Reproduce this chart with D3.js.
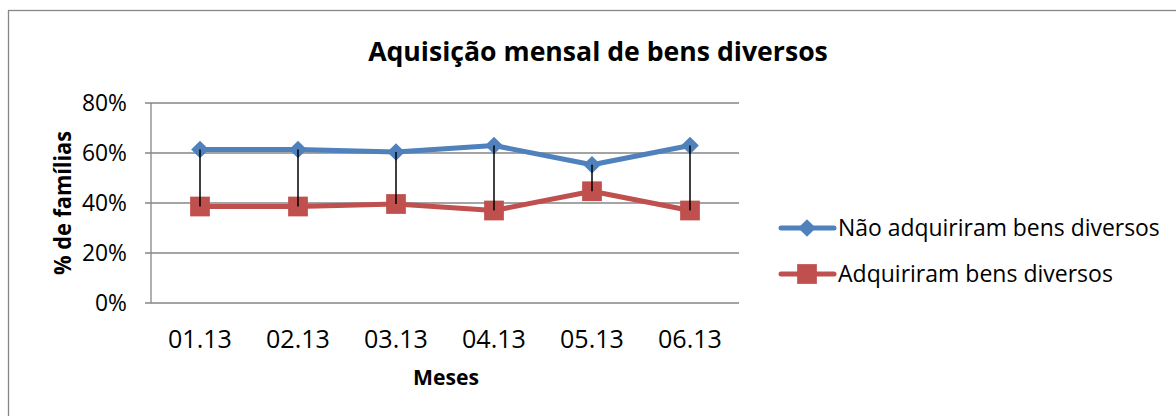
<!DOCTYPE html>
<html><head><meta charset="utf-8">
<script src="https://cdn.jsdelivr.net/npm/d3@7"></script>
<style>body{margin:0;background:#fff}svg{display:block}text{font-family:"Open Sans","Noto Sans",sans-serif;fill:#000}</style>
</head><body><svg id="c" width="1176" height="416"></svg>
<script>
const months = ["01.13","02.13","03.13","04.13","05.13","06.13"];
const naoAdq = [61.4,61.4,60.4,63.0,55.3,63.0];
const adq = [38.6,38.6,39.6,37.0,44.7,37.0];
const yTicks = [0,20,40,60,80];
const seriesNames = ["Não adquiriram bens diversos","Adquiriram bens diversos"];
const colors = ["#4F81BD","#C0504D"];

const svg = d3.select("#c");
const fit = (sel, w) => { const n = sel.node(); const l = n.getComputedTextLength(); const fs = parseFloat(sel.attr("font-size")); sel.attr("font-size", fs*w/l); };

svg.append("rect").attr("x",8.5).attr("y",10.5).attr("width",1180).attr("height",420).attr("fill","none").attr("stroke","#868686").attr("stroke-width",1.3);

const L=151,R=739,T=103,B=303;
const x = d3.scaleBand().domain(months).range([L,R]);
const y = d3.scaleLinear().domain([0,80]).range([B,T]);
const g = svg.append("g");

g.selectAll(".grid").data(yTicks).join("line").attr("x1",L-6).attr("x2",R).attr("y1",d=>y(d)).attr("y2",d=>y(d)).attr("stroke","#868686").attr("stroke-width",1.3);
g.append("line").attr("x1",L).attr("x2",L).attr("y1",T).attr("y2",B).attr("stroke","#868686").attr("stroke-width",1.3);

const yl = g.selectAll(".yl").data(yTicks).join("text").attr("x",127).attr("y",d=>y(d)).attr("dy","0.36em").attr("text-anchor","end").attr("font-size",19).text(d=>d+"%");
const s80 = yl.filter(d=>d===80); const f = 19*45/s80.node().getComputedTextLength(); yl.attr("font-size",f);
const xl = g.selectAll(".xl").data(months).join("text").attr("x",d=>x(d)+x.bandwidth()/2).attr("y",348).attr("text-anchor","middle").attr("font-size",19).text(d=>d);
const fx = 19*64/xl.node().getComputedTextLength(); xl.attr("font-size",fx);

const cx = d => x(d)+x.bandwidth()/2;
const line = d3.line().x((d,i)=>cx(months[i])).y(d=>y(d));
[naoAdq,adq].forEach((s,k)=>{
  g.append("path").datum(s).attr("d",line).attr("fill","none").attr("stroke",colors[k]).attr("stroke-width",5).attr("stroke-linejoin","round");
});

const diamond = d3.symbol().type(d3.symbolDiamond2).size(200);
const square = d3.symbol().type(d3.symbolSquare).size(390);
g.selectAll(".m1").data(naoAdq).join("path").attr("d",diamond()).attr("transform",(d,i)=>`translate(${cx(months[i])},${y(d)})`).attr("fill",colors[0]);
g.selectAll(".m2").data(adq).join("path").attr("d",square()).attr("transform",(d,i)=>`translate(${cx(months[i])},${y(d)})`).attr("fill",colors[1]);
// high-low lines
g.selectAll(".hl").data(months).join("line").attr("x1",cx).attr("x2",cx).attr("y1",(d,i)=>y(naoAdq[i])).attr("y2",(d,i)=>y(adq[i])).attr("stroke","#000").attr("stroke-width",1.5);

// title
const t = svg.append("text").attr("x",598).attr("y",61).attr("text-anchor","middle").attr("font-size",24).attr("font-weight","bold").text("Aquisição mensal de bens diversos");
fit(t,460);
svg.append("text").attr("x",446).attr("y",385).attr("text-anchor","middle").attr("font-size",22).attr("font-weight","bold")
  .attr("textLength",66).attr("lengthAdjust","spacingAndGlyphs").text("Meses");
svg.append("text").attr("transform","translate(63,203) rotate(-90)").attr("text-anchor","middle").attr("font-size",23).attr("font-weight","bold")
  .attr("dy","0.35em").attr("textLength",144).attr("lengthAdjust","spacingAndGlyphs").text("% de famílias");

// legend
const leg = svg.append("g");
const ly = [228,274];
seriesNames.forEach((n,k)=>{
  leg.append("line").attr("x1",781).attr("x2",834).attr("y1",ly[k]).attr("y2",ly[k]).attr("stroke",colors[k]).attr("stroke-width",5).attr("stroke-linecap","round");
  leg.append("path").attr("d", k===0 ? diamond() : square()).attr("transform",`translate(807,${ly[k]})`).attr("fill",colors[k]);
  const tx = leg.append("text").attr("x",838).attr("y",ly[k]).attr("dy","0.36em").attr("font-size",20).text(n);
  fit(tx, k===0 ? 322 : 275);
});
</script></body></html>
